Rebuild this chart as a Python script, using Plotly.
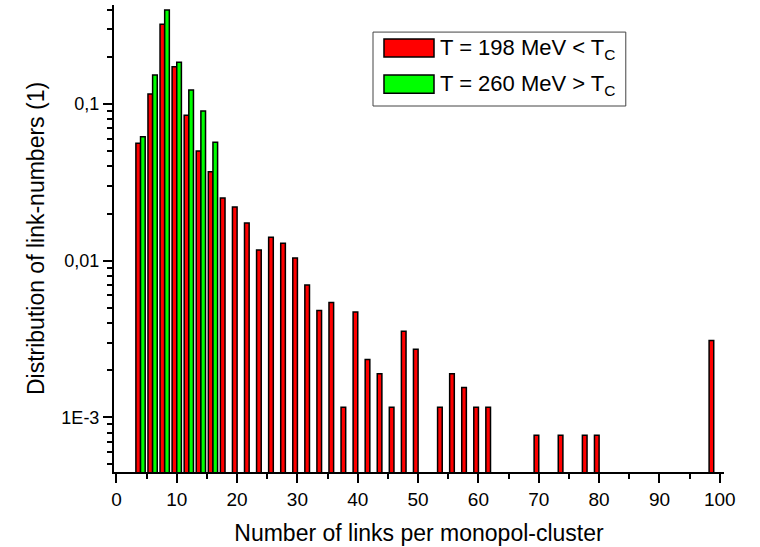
import plotly.graph_objects as go

# Data
links_red = [4, 6, 8, 10, 12, 14, 16, 18, 20, 22, 24, 26, 28, 30, 32, 34, 36, 38, 40,
             42, 44, 46, 48, 50, 54, 56, 58, 60, 62, 70, 74, 78, 80, 99]
dist_red = [0.0561, 0.116, 0.323, 0.173, 0.0847, 0.0501, 0.037, 0.0251, 0.022, 0.0174,
            0.0117, 0.0141, 0.0129, 0.0104, 0.0070, 0.0048, 0.0054, 0.00116, 0.0047,
            0.00234, 0.0019, 0.00116, 0.00354, 0.00272, 0.00116, 0.0019, 0.00155,
            0.00116, 0.00116, 0.000768, 0.000768, 0.000768, 0.000768, 0.00309]
links_green = [4, 6, 8, 10, 12, 14, 16]
dist_green = [0.0618, 0.153, 0.398, 0.185, 0.123, 0.0902, 0.057]

label_red = "T = 198 MeV < T<sub>C</sub>"
label_green = "T = 260 MeV > T<sub>C</sub>"
x_title = "Number of links per monopol-cluster"
y_title = "Distribution of link-numbers (1)"
y_tickvals = [0.001, 0.01, 0.1]
y_ticktext = ["1E-3", "0,01", "0,1"]

FONT = "Arial, Liberation Sans, sans-serif"
BW = 0.77

fig = go.Figure()
fig.add_trace(go.Bar(x=links_red, y=dist_red, width=BW, offset=-BW,
                     marker=dict(color="#FF0000", line=dict(color="black", width=1.5)),
                     name=label_red, showlegend=False))
fig.add_trace(go.Bar(x=links_green, y=dist_green, width=BW, offset=0,
                     marker=dict(color="#00FF00", line=dict(color="black", width=1.5)),
                     name=label_green, showlegend=False))

# Manual legend (large swatches as in the reference)
fig.add_shape(type="rect", xref="paper", yref="paper", x0=0.4246, x1=0.839, y0=0.7837, y1=0.942,
              line=dict(color="#444", width=1), fillcolor="white")
for (y0, y1, col, lab, yc) in [(0.8887, 0.9272, "#FF0000", label_red, 0.906),
                               (0.811, 0.850, "#00FF00", label_green, 0.829)]:
    fig.add_shape(type="rect", xref="paper", yref="paper", x0=0.4426, x1=0.5246, y0=y0, y1=y1,
                  line=dict(color="black", width=1.5), fillcolor=col)
    fig.add_annotation(xref="paper", yref="paper", x=0.531, y=yc, text=lab, showarrow=False,
                       xanchor="left", yanchor="middle", font=dict(size=22, color="black", family=FONT))

fig.update_layout(
    width=760, height=547,
    margin=dict(l=114, r=36, t=5, b=75),
    paper_bgcolor="white", plot_bgcolor="white",
    barmode="overlay",
    font=dict(family=FONT, color="black", size=17),
    xaxis=dict(range=[-0.4, 100.7], showline=True, linecolor="black", linewidth=2,
               ticks="outside", ticklen=9, tickwidth=1.5, tickcolor="black",
               tickvals=list(range(0, 101, 10)), showgrid=False, zeroline=False,
               tickfont=dict(size=19),
               minor=dict(ticks="outside", ticklen=5, tickwidth=1.5, tickcolor="black",
                          tickvals=list(range(5, 100, 10)), showgrid=False),
               title=dict(text=x_title, font=dict(size=23), standoff=16)),
    yaxis=dict(type="log", range=[-3.349, -0.368], showline=True, linecolor="black", linewidth=2,
               ticks="outside", ticklen=9, tickwidth=1.5, tickcolor="black",
               tickvals=y_tickvals, ticktext=y_ticktext, showgrid=False, zeroline=False,
               tickfont=dict(size=18),
               minor=dict(ticks="outside", ticklen=5, tickwidth=1.5, tickcolor="black",
                          dtick="D1", showgrid=False),
               title=dict(text=y_title, font=dict(size=23), standoff=10)),
)

fig.write_html("out.html")
